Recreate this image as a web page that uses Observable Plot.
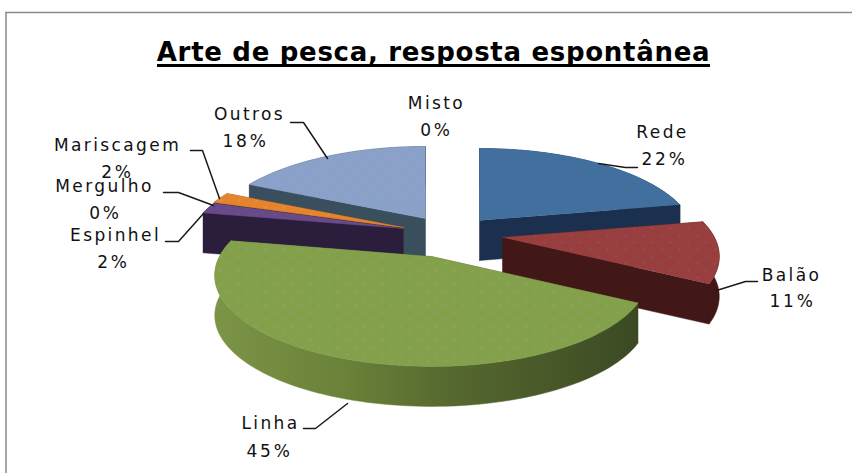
<!DOCTYPE html>
<html><head><meta charset="utf-8">
<script src="https://cdn.jsdelivr.net/npm/d3@7"></script>
<script src="https://cdn.jsdelivr.net/npm/@observablehq/plot@0.6"></script>
<style>html,body{margin:0;padding:0;background:#fff}svg{display:block}
.t-title text{letter-spacing:0.7px}
.t-cat text{letter-spacing:2.4px}
.t-pct text{letter-spacing:2.8px}
</style>
</head><body><div id="chart"></div>
<script>
const categories = ["Rede","Balão","Linha","Espinhel","Mergulho","Mariscagem","Outros","Misto"];
const values = [22,11,45,2,0,2,18,0];
const topColors = ["#41709f","#983e3e","#83a04b","#684a88","#684a88","#e5842d","#8ca1ca","#8ca1ca"];
const sideColors = ["#1b2f4e","#421717","url(#linhaSide)","#2a1e3c","#2a1e3c","#a85f20","#3a4f5e","#3a4f5e"];
const dotColors = ["#5560ad","#7d5a5f","#a8957f","#7d4f9a","#7d4f9a","#d9a050","#74a6bd","#74a6bd"];
// layout, in picture pixels
const apexX = [479,502,431,403,403,403,425,425];
const apexY = [220,237,256,228,228,227,218,218];
const labelX = [662,791,270,115,104,117,249,436];
const labelY = [132,275,423,235,186,145,114,103];
const pctX = [664,792,269,113,105,117,245,436];
const pctY = [159,301,451,262,213,172,141,130];
const leaders = [
  [[637,167],[625,167],[598,163]],
  [[757,281],[745,281],[716,290]],
  [[303,428],[315,428],[347,403]],
  [[165,241],[178,241],[203,213]],
  [[163,192],[178,192],[213,205]],
  [[190,150],[202,150],[219,198]],
  [[290,122],[303,122],[327,158]],
  []
];
const title = "Arte de pesca, resposta espontânea";
const paintOrder = [6,0,5,3,1,2];
const R = 212, K = 87, D = 4.8, depth = 40;

const total = d3.sum(values);
const starts = d3.cumsum([0, ...values]).map(v => v / total * 2 * Math.PI);
function rim(i, a) {
  const c = Math.cos(a), s = 1 / (1 + c / D);
  return {x: apexX[i] + R * Math.sin(a) * s, y: apexY[i] - K * c * s};
}
function arc(i, a0, a1) {
  const n = Math.max(2, Math.ceil((a1 - a0) / 0.03));
  return d3.range(n + 1).map(k => rim(i, a0 + (a1 - a0) * k / n));
}
const down = pts => pts.map(p => ({x: p.x, y: p.y + depth}));
const band = pts => [...pts, ...down(pts).reverse()];
const line = (pts, fill) => Plot.line(pts, {x: "x", y: "y", fill, stroke: fill, strokeWidth: 0.5});

const sliceMarks = paintOrder.flatMap(i => {
  const a0 = starts[i], a1 = starts[i + 1], apex = {x: apexX[i], y: apexY[i]};
  const rimPts = arc(i, a0, a1);
  return [
    line(band([apex, rim(i, a0)]), sideColors[i]),
    line(band([apex, rim(i, a1)]), sideColors[i]),
    line(band(rimPts), sideColors[i]),
    line([apex, ...rimPts], `url(#top${i})`)
  ];
});

const defs = () => {
  const d = d3.create("svg:defs");
  const g = d.append("linearGradient").attr("id", "linhaSide")
    .attr("gradientUnits", "userSpaceOnUse").attr("x1", 215).attr("x2", 640).attr("y1", 0).attr("y2", 0);
  [[0, "#7b9445"], [0.3, "#6a8239"], [0.55, "#56692f"], [1, "#3b4923"]].forEach(([o, c]) =>
    g.append("stop").attr("offset", o).attr("stop-color", c));
  topColors.forEach((c, i) => {
    const p = d.append("pattern").attr("id", `top${i}`).attr("patternUnits", "userSpaceOnUse")
      .attr("width", 18).attr("height", 14);
    p.append("rect").attr("width", 18).attr("height", 14).attr("fill", c);
    [[3, 3], [12, 10]].forEach(([x, y]) =>
      p.append("rect").attr("x", x).attr("y", y).attr("width", 2).attr("height", 2)
        .attr("fill", dotColors[i]).attr("opacity", 0.75));
  });
  return d.node();
};

const leaderMarks = leaders.filter(l => l.length).map(l =>
  Plot.line(l.map(([x, y]) => ({x, y})), {x: "x", y: "y", stroke: "#1a1a1a", strokeWidth: 1.5}));

const font = "'DejaVu Sans', sans-serif";
const chart = Plot.plot({
  width: 852, height: 473,
  margin: 0, marginTop: 0, marginRight: 0, marginBottom: 0, marginLeft: 0,
  style: {background: "#fff", fontFamily: font, overflow: "hidden"},
  x: {domain: [0, 852], range: [0, 852], axis: null},
  y: {domain: [0, 473], range: [0, 473], axis: null},
  marks: [
    defs,
    Plot.ruleX([5.5], {y1: 12, y2: 473, stroke: "#8a8a8a", strokeWidth: 1.5}),
    Plot.ruleY([12], {x1: 5.5, x2: 852, stroke: "#8a8a8a", strokeWidth: 1.5}),
    ...sliceMarks,
    ...leaderMarks,
    Plot.text([title], {x: () => 433, y: () => 52, text: d => d, fontSize: 26, fontWeight: 700, fill: "#000", textAnchor: "middle", fontFamily: font, className: "t-title"}),
    Plot.ruleY([65], {x1: 157, x2: 710, stroke: "#000", strokeWidth: 3}),
    Plot.text(categories, {x: (d, i) => labelX[i], y: (d, i) => labelY[i], text: d => d, fontSize: 17, fill: "#111", fontFamily: font, className: "t-cat"}),
    Plot.text(values, {x: (d, i) => pctX[i], y: (d, i) => pctY[i], text: d => d + "%", fontSize: 17, fill: "#111", fontFamily: font, className: "t-pct"})
  ]
});
document.getElementById("chart").append(chart);
</script></body></html>
